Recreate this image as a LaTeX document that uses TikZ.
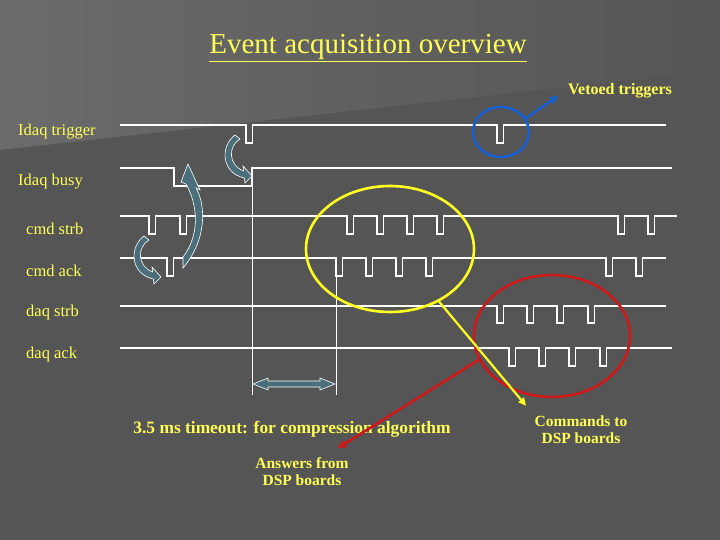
\documentclass[tikz,border=0pt]{standalone}
\usepackage{fontspec}
\setmainfont{Liberation Serif}
\usetikzlibrary{arrows.meta,shapes.geometric}

\definecolor{slide}{HTML}{555555}
\definecolor{slidelight}{HTML}{6B6B6B}
\definecolor{lbl}{HTML}{FFFF55}
\definecolor{swoopfill}{HTML}{4A6E7A}
\definecolor{vetoblue}{HTML}{1A5FD0}
\definecolor{cmdyellow}{HTML}{FFFF22}
\definecolor{ansred}{HTML}{CC1818}

\tikzset{
  sig/.style={white, line width=1.6pt},
  mark line/.style={white, line width=0.8pt},
  siglabel/.style={text=lbl, anchor=west, inner sep=0pt, font=\fontsize{16.5}{18}\selectfont},
  note/.style={text=lbl, align=center, inner sep=0pt, font=\bfseries\fontsize{15.5}{17}\selectfont},
  hilite/.style={ellipse, line width=2.6pt, inner sep=0pt},
  fat arrow/.style={fill=swoopfill, draw=white, line width=0.6pt},
  swoop/.pic={
    \filldraw[fat arrow] (3,1) .. controls (-9,8) and (-9,27) .. (6.6,33)
      -- (6,28) -- (15,38) -- (8,45) -- (7.4,40)
      .. controls (-16,35) and (-17,8) .. (-2,-3) -- cycle;
  }
}

\begin{document}
\begin{tikzpicture}[x=1pt,y=-1pt]
  \useasboundingbox (0,0) rectangle (720,540);
  % background
  \fill[slide] (0,0) rectangle (720,540);
  \shade[left color=slidelight, right color=slide] (0,0) -- (720,0) -- (720,70) -- (0,150) -- cycle;

  \node[text=lbl, font=\fontsize{29}{32}\selectfont] (title) at (368,48) {\underline{Event acquisition overview}};

  % signal names
  \node[siglabel] (trg) at (18,132) {Idaq trigger};
  \node[siglabel] (busy) at (18,182) {Idaq busy};
  \node[siglabel] (cstrb) at (26,229) {cmd strb};
  \node[siglabel] (cack) at (26,271) {cmd ack};
  \node[siglabel] (dstrb) at (26,313) {daq strb};
  \node[siglabel] (dack) at (26,355) {daq ack};

  % waveforms
  \draw[sig] (120,125) foreach \p in {246,497} { -- (\p,125) -- (\p,143) -- (\p+6.5,143) -- (\p+6.5,125) } -- (666,125);
  \draw[sig] (120,168) -- (174,168) -- (174,186) -- (252,186) -- (252,168) -- (672,168);
  \draw[sig] (120,216) foreach \p in {149,180,347,377,407,437,618,648} { -- (\p,216) -- (\p,234) -- (\p+6.5,234) -- (\p+6.5,216) } -- (677,216);
  \draw[sig] (120,258) foreach \p in {167,336,366,396,426,606,636} { -- (\p,258) -- (\p,276) -- (\p+6.5,276) -- (\p+6.5,258) } -- (666,258);
  \draw[sig] (120,306) foreach \p in {497,527,557,588} { -- (\p,306) -- (\p,323) -- (\p+6.5,323) -- (\p+6.5,306) } -- (666,306);
  \draw[sig] (120,348) foreach \p in {509,539,569,600} { -- (\p,348) -- (\p,366) -- (\p+6.5,366) -- (\p+6.5,348) } -- (672,348);

  % timeout markers
  \draw[mark line] (252,168) -- (252,395);
  \draw[mark line] (336,276) -- (336,395);
  \filldraw[fat arrow] (253,384) -- (268,378) -- (268,381) -- (320,381) -- (320,378) -- (335,384)
    -- (320,390) -- (320,387) -- (268,387) -- (268,390) -- cycle;

  % handshake arrows
  \pic at (237,138) {swoop};
  \pic at (146,239) {swoop};
  \filldraw[fat arrow] (183,257) .. controls (200,235) and (198,205) .. (186,184) -- (181,182) -- (188,164)
    -- (200,190) -- (196,188) .. controls (206,205) and (207,240) .. (183,268) -- cycle;

  \node[note, font=\bfseries\fontsize{17.4}{19}\selectfont] (timeout) at (292,429) {3.5 ms timeout: for compression algorithm};
  \node[note, font=\bfseries\fontsize{16}{18}\selectfont] (vetolbl) at (620,91) {Vetoed triggers};
  \node[note] (cmdlbl) at (581,430) {Commands to\\DSP boards};
  \node[note] (anslbl) at (302,472) {Answers from\\DSP boards};

  % highlights
  \node[hilite, draw=vetoblue, minimum width=56, minimum height=50] (veto) at (501,132) {};
  \node[hilite, draw=cmdyellow, minimum width=168, minimum height=126] (cmdring) at (390,249) {};
  \node[hilite, draw=ansred, minimum width=156, minimum height=122] (ansring) at (552,336) {};

  \coordinate (vetotip) at (558,96);
  \coordinate (anstip) at (338,448);
  \draw[vetoblue, line width=2.6pt, -{Triangle[length=8pt,width=8pt]}] (veto.29) -- (vetotip);
  \draw[ansred, line width=2.6pt, -{Triangle[length=8pt,width=8pt]}] (ansring.198) -- (anstip);
  \draw[cmdyellow, line width=2.2pt, shorten >=13pt, -{Triangle[length=8pt,width=7pt]}] (cmdring.-47) -- (cmdlbl.north west);
\end{tikzpicture}
\end{document}
